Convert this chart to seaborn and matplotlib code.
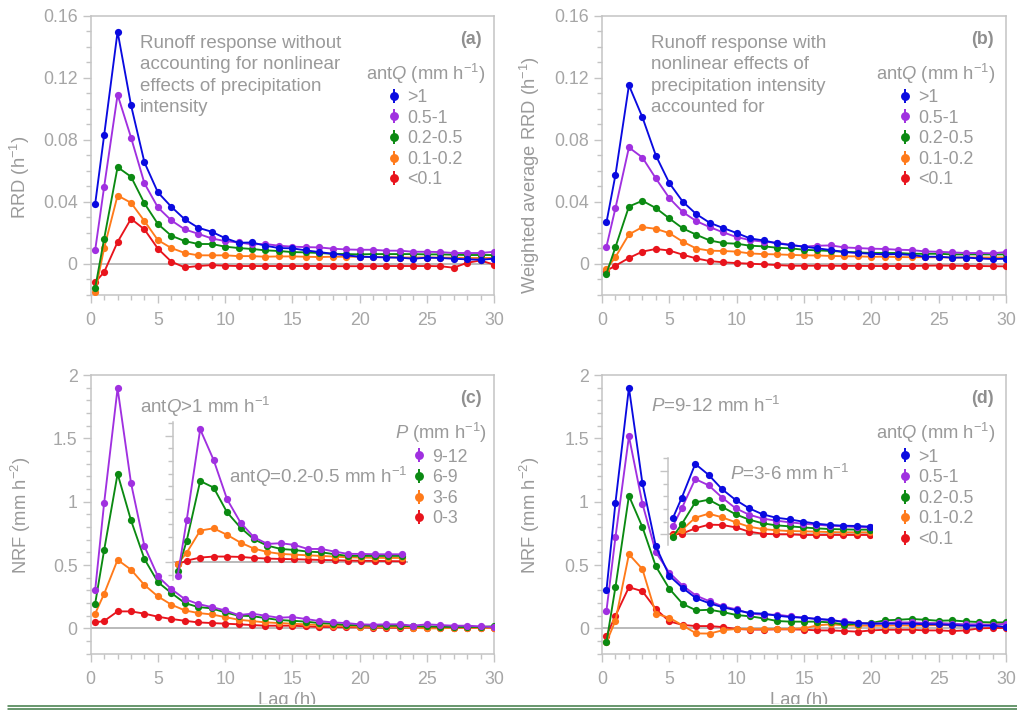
import matplotlib
matplotlib.use("Agg")
import matplotlib.pyplot as plt
from matplotlib.ticker import MultipleLocator, FixedLocator, FuncFormatter
from matplotlib.lines import Line2D
from matplotlib.patches import Rectangle
from matplotlib.legend_handler import HandlerTuple
import pandas as pd
import seaborn as sns

# ---------------------------------------------------------------- data
LAG = [0.33] + list(range(1, 31))
LAG_C_INSET = [0.33] + list(range(1, 18))
LAG_D_INSET = [0.33] + list(range(1, 16))

ANTQ_LABELS = [">1", "0.5-1", "0.2-0.5", "0.1-0.2", "<0.1"]
P_LABELS = ["9-12", "6-9", "3-6", "0-3"]

# (a) RRD without accounting for precipitation-intensity effects
a_gt1 = [0.0384, 0.0829, 0.1497, 0.1022, 0.0653, 0.046, 0.0367, 0.0286, 0.0232, 0.0206, 0.0165,
         0.0135, 0.0137, 0.0116, 0.0101, 0.0099, 0.0086, 0.0075, 0.0064, 0.0054, 0.0045,
         0.0043, 0.004, 0.0039, 0.0032, 0.0039, 0.0037, 0.0032, 0.0028, 0.0026, 0.0032]
a_05_1 = [0.0086, 0.0496, 0.109, 0.0814, 0.0518, 0.0363, 0.0279, 0.0221, 0.0193, 0.0163, 0.0146,
          0.0137, 0.0125, 0.0127, 0.0116, 0.011, 0.0107, 0.0105, 0.0097, 0.0092, 0.009,
          0.009, 0.0084, 0.0084, 0.0077, 0.0077, 0.0075, 0.0069, 0.0069, 0.0069, 0.0077]
a_02_05 = [-0.0159, 0.0161, 0.0623, 0.0561, 0.0389, 0.0256, 0.018, 0.0146, 0.0127, 0.0127, 0.011,
           0.0101, 0.0095, 0.0086, 0.0082, 0.0075, 0.0073, 0.0069, 0.0064, 0.0062, 0.006,
           0.0062, 0.0062, 0.0062, 0.0062, 0.006, 0.006, 0.0058, 0.0056, 0.0056, 0.0056]
a_01_02 = [-0.0185, 0.0101, 0.044, 0.0393, 0.0275, 0.0152, 0.0101, 0.0069, 0.0054, 0.0054, 0.0054,
           0.0049, 0.0049, 0.0045, 0.0047, 0.0047, 0.0045, 0.0043, 0.0045, 0.0045, 0.0045,
           0.0043, 0.0043, 0.004, 0.004, 0.004, 0.0039, 0.0039, 0.0037, 0.0037, 0.0037]
a_lt01 = [-0.012, -0.0054, 0.014, 0.029, 0.0221, 0.0097, 0.0013, -0.0024, -0.0015, -0.0009, -0.0013,
          -0.0015, -0.0015, -0.0015, -0.0015, -0.0015, -0.0015, -0.0015, -0.0016, -0.0016, -0.0016,
          -0.0016, -0.0015, -0.0015, -0.0015, -0.0015, -0.0016, -0.0026, 0.0006, 0.0021, -0.0006]

# (b) weighted average RRD, intensity effects accounted for
b_gt1 = [0.0266, 0.0573, 0.1151, 0.0945, 0.0698, 0.052, 0.04, 0.032, 0.0264, 0.023, 0.0198,
         0.0163, 0.015, 0.0131, 0.012, 0.011, 0.0099, 0.0088, 0.0075, 0.0069, 0.0064,
         0.006, 0.0062, 0.0056, 0.0045, 0.0045, 0.0039, 0.004, 0.0034, 0.003, 0.0032]
b_05_1 = [0.011, 0.0359, 0.075, 0.0685, 0.055, 0.0423, 0.0333, 0.0275, 0.0236, 0.0202, 0.0172,
          0.0152, 0.0142, 0.0135, 0.0122, 0.011, 0.0116, 0.0118, 0.0105, 0.0101, 0.0097,
          0.0095, 0.009, 0.0088, 0.0079, 0.0077, 0.0073, 0.0069, 0.0069, 0.0067, 0.0075]
b_02_05 = [-0.0064, 0.0107, 0.0369, 0.0406, 0.0359, 0.0292, 0.0228, 0.0187, 0.015, 0.0133, 0.0129,
           0.0116, 0.0112, 0.0103, 0.0099, 0.009, 0.0086, 0.0082, 0.0077, 0.0073, 0.0069,
           0.0069, 0.0069, 0.0064, 0.0064, 0.0064, 0.006, 0.006, 0.006, 0.006, 0.006]
b_01_02 = [-0.0035, 0.0043, 0.0189, 0.0236, 0.0225, 0.0197, 0.0142, 0.0098, 0.0084, 0.0082, 0.0078,
           0.0066, 0.0062, 0.006, 0.0057, 0.0054, 0.0053, 0.005, 0.0048, 0.0047, 0.0045,
           0.0045, 0.0043, 0.0042, 0.0042, 0.0041, 0.004, 0.004, 0.004, 0.004, 0.004]
b_lt01 = [-0.0045, -0.0013, 0.0037, 0.0078, 0.0095, 0.0085, 0.0058, 0.0034, 0.0017, 0.0009, 0.0004,
          0.0, -0.0004, -0.0009, -0.0013, -0.0013, -0.0013, -0.0013, -0.0014, -0.0014, -0.0015,
          -0.0015, -0.0015, -0.0015, -0.0013, -0.0012, -0.0013, -0.0014, -0.0015, -0.0016, -0.0017]

# (c) NRF for antQ > 1 mm/h, by precipitation intensity
c_9_12 = [0.30, 0.99, 1.895, 1.146, 0.647, 0.41, 0.31, 0.231, 0.192, 0.168, 0.142,
          0.105, 0.116, 0.1, 0.084, 0.089, 0.074, 0.058, 0.047, 0.042, 0.032,
          0.029, 0.032, 0.032, 0.021, 0.032, 0.026, 0.021, 0.021, 0.016, 0.011]
c_6_9 = [0.194, 0.618, 1.22, 0.852, 0.547, 0.365, 0.279, 0.2, 0.168, 0.158, 0.126,
         0.1, 0.097, 0.081, 0.066, 0.06, 0.053, 0.042, 0.037, 0.026, 0.024,
         0.021, 0.021, 0.021, 0.016, 0.016, 0.013, 0.011, 0.011, 0.011, 0.016]
c_3_6 = [0.116, 0.273, 0.541, 0.463, 0.342, 0.252, 0.187, 0.142, 0.121, 0.11, 0.089,
         0.068, 0.058, 0.047, 0.042, 0.037, 0.032, 0.026, 0.021, 0.016, 0.013,
         0.011, 0.011, 0.011, 0.005, 0.0, 0.0, 0.005, 0.003, 0.003, 0.005]
c_0_3 = [0.047, 0.058, 0.134, 0.134, 0.116, 0.092, 0.074, 0.06, 0.047, 0.042, 0.037,
         0.032, 0.026, 0.021, 0.021, 0.021, 0.016, 0.011, 0.011, 0.008, 0.008,
         0.005, 0.005, 0.005, 0.005, 0.005, 0.005, 0.005, 0.005, 0.005, 0.005]

# (c) inset: antQ = 0.2-0.5 mm/h
ci_9_12 = [-0.105, 0.334, 1.049, 0.807, 0.497, 0.313, 0.197, 0.145, 0.15, 0.137, 0.105,
           0.105, 0.084, 0.066, 0.066, 0.063, 0.063, 0.063]
ci_6_9 = [-0.066, 0.171, 0.641, 0.589, 0.394, 0.273, 0.181, 0.131, 0.105, 0.097, 0.084,
          0.079, 0.063, 0.05, 0.05, 0.05, 0.05, 0.05]
ci_3_6 = [-0.013, 0.076, 0.25, 0.268, 0.216, 0.155, 0.108, 0.081, 0.066, 0.06, 0.055,
          0.05, 0.045, 0.039, 0.037, 0.035, 0.034, 0.034]
ci_0_3 = [-0.016, 0.013, 0.037, 0.045, 0.045, 0.042, 0.034, 0.029, 0.026, 0.024, 0.021,
          0.018, 0.016, 0.013, 0.011, 0.011, 0.009, 0.008]

# (d) NRF for P = 9-12 mm/h, by antecedent flow
d_gt1 = [0.30, 0.993, 1.90, 1.146, 0.647, 0.415, 0.318, 0.237, 0.197, 0.166, 0.142,
         0.121, 0.116, 0.1, 0.089, 0.084, 0.074, 0.068, 0.047, 0.042, 0.037,
         0.037, 0.037, 0.037, 0.032, 0.032, 0.026, 0.021, 0.021, 0.021, 0.011]
d_05_1 = [0.138, 0.72, 1.516, 0.985, 0.6, 0.44, 0.336, 0.258, 0.213, 0.173, 0.15,
          0.116, 0.108, 0.108, 0.095, 0.084, 0.074, 0.063, 0.055, 0.042, 0.037,
          0.042, 0.047, 0.047, 0.042, 0.042, 0.037, 0.032, 0.032, 0.026, 0.037]
d_02_05 = [-0.11, 0.327, 1.046, 0.8, 0.489, 0.313, 0.192, 0.142, 0.147, 0.128, 0.105,
           0.095, 0.079, 0.058, 0.053, 0.053, 0.053, 0.047, 0.029, 0.037, 0.042,
           0.063, 0.068, 0.074, 0.068, 0.06, 0.063, 0.055, 0.05, 0.047, 0.047]
d_01_02 = [-0.11, 0.062, 0.585, 0.468, 0.115, 0.084, 0.022, -0.04, -0.041, -0.014, -0.005,
           -0.005, -0.005, -0.005, -0.005, 0.0, 0.024, 0.032, 0.024, 0.021, 0.021,
           0.021, 0.024, 0.021, 0.024, 0.026, 0.024, 0.021, 0.026, 0.032, 0.034]
d_lt01 = [-0.06, 0.1, 0.325, 0.293, 0.152, 0.055, 0.027, 0.018, 0.018, 0.01, -0.005,
          -0.01, -0.01, -0.008, -0.008, -0.01, -0.016, -0.016, -0.021, -0.026, -0.016,
          -0.011, -0.011, -0.011, -0.016, -0.016, -0.021, -0.016, 0.0, 0.003, 0.003]

# (d) inset: P = 3-6 mm/h
di_gt1 = [0.126, 0.289, 0.555, 0.468, 0.355, 0.271, 0.205, 0.158, 0.131, 0.118, 0.1,
          0.084, 0.074, 0.068, 0.066, 0.06]
di_05_1 = [0.063, 0.205, 0.436, 0.386, 0.289, 0.205, 0.155, 0.124, 0.108, 0.095, 0.084,
           0.076, 0.068, 0.063, 0.058, 0.055]
di_02_05 = [-0.021, 0.081, 0.252, 0.273, 0.216, 0.158, 0.116, 0.087, 0.071, 0.063, 0.055,
            0.047, 0.042, 0.039, 0.037, 0.037]
di_01_02 = [-0.01, 0.034, 0.131, 0.163, 0.134, 0.095, 0.06, 0.042, 0.032, 0.026, 0.024,
            0.021, 0.018, 0.016, 0.016, 0.016]
di_lt01 = [0.0, 0.005, 0.047, 0.076, 0.074, 0.055, 0.021, 0.005, 0.0, 0.0, -0.005,
           -0.005, -0.005, -0.005, -0.005, -0.005]

# ---------------------------------------------------------------- style
BLUE, PURPLE, GREEN, ORANGE, RED = "#0a0ae0", "#a030e0", "#0b8a12", "#ff7a1a", "#e8141c"
ANTQ_COLORS = [BLUE, PURPLE, GREEN, ORANGE, RED]
P_COLORS = [PURPLE, GREEN, ORANGE, RED]
TEXT = "#9a9a9a"
TICKTXT = "#a6a6a6"
SPINE = "#c4c4c4"
ZERO = "#b4b4b4"

sns.set_theme(style="white")
plt.rcParams["font.family"] = ["Liberation Sans", "DejaVu Sans"]
plt.rcParams["mathtext.fontset"] = "custom"
plt.rcParams["mathtext.rm"] = "Liberation Sans"
plt.rcParams["mathtext.it"] = "Liberation Sans:italic"
plt.rcParams["mathtext.bf"] = "Liberation Sans:bold"

TICK_FS = 12.8
LABEL_FS = 13.2
NOTE_FS = 13.5

W, H = 1017, 711
fig = plt.figure(figsize=(W / 100, H / 100), dpi=100)


def px_axes(left, top, right, bottom):
    return fig.add_axes([left / W, 1 - bottom / H, (right - left) / W, (bottom - top) / H])


def draw_series(ax, lags, labels, series, colors):
    frames = [pd.DataFrame({"lag": lags, "value": v, "group": lab})
              for lab, v in zip(labels, series)]
    df = pd.concat(frames, ignore_index=True)
    sns.lineplot(data=df, x="lag", y="value", hue="group",
                 hue_order=labels[::-1], palette=dict(zip(labels, colors)),
                 marker="o", markersize=5.2, markeredgewidth=0, linewidth=1.35,
                 estimator=None, sort=True, legend=False, ax=ax, zorder=3)
    ax.set_xlabel("")
    ax.set_ylabel("")


def style_main(ax, ylim, majors, minor_step):
    ax.set_xlim(0, 30)
    ax.set_ylim(*ylim)
    ax.xaxis.set_major_locator(MultipleLocator(5))
    ax.xaxis.set_minor_locator(MultipleLocator(1))
    ax.yaxis.set_major_locator(FixedLocator(majors))
    ax.yaxis.set_minor_locator(MultipleLocator(minor_step))
    ax.yaxis.set_major_formatter(FuncFormatter(lambda v, p: f"{v:g}"))
    ax.tick_params(which="both", left=True, bottom=True, top=False, right=False,
                   direction="out", color=SPINE, width=1.0)
    ax.tick_params(which="major", length=5.5, labelsize=TICK_FS, labelcolor=TICKTXT)
    ax.tick_params(axis="x", which="major", pad=7)
    ax.tick_params(axis="y", which="major", pad=4)
    ax.tick_params(which="minor", length=3.4)
    for s in ax.spines.values():
        s.set_color(SPINE)
        s.set_linewidth(1.1)
    ax.axhline(0, color=ZERO, lw=1.3, zorder=1)


def style_inset(ax, xlim, ylim, majors, minors):
    ax.patch.set_visible(False)
    ax.set_xlim(*xlim)
    ax.set_ylim(*ylim)
    for side in ("top", "right", "bottom"):
        ax.spines[side].set_visible(False)
    ax.spines["left"].set_color(SPINE)
    ax.spines["left"].set_linewidth(1.1)
    ax.set_xticks([])
    ax.yaxis.set_major_locator(FixedLocator(majors))
    ax.yaxis.set_minor_locator(FixedLocator(minors))
    ax.tick_params(axis="y", which="both", left=True, labelleft=False,
                   direction="out", color=SPINE, width=1.0)
    ax.tick_params(axis="y", which="major", length=5.5)
    ax.tick_params(axis="y", which="minor", length=3.4)
    ax.axhline(0, color=ZERO, lw=1.3, zorder=1)


def add_legend(ax, labels, colors, title, anchor):
    # a filled dot with a short vertical bar through it for each class
    handles = [(Line2D([], [], ls="none", marker="|", ms=9.5, mew=1.4, color=c),
                Line2D([], [], ls="none", marker="o", ms=6.4, mew=0, color=c))
               for c in colors]
    leg = ax.legend(handles, labels,
                    handler_map={tuple: HandlerTuple(ndivide=1, pad=0)},
                    title=title, loc="upper right", bbox_to_anchor=anchor,
                    frameon=False, fontsize=TICK_FS, title_fontsize=LABEL_FS,
                    handlelength=0.6, handletextpad=0.45, labelspacing=0.2,
                    borderpad=0, borderaxespad=0)
    for t in leg.get_texts():
        t.set_color(TEXT)
    leg.get_title().set_color(TEXT)
    leg.set_zorder(5)


def note(ax, x, y, s, **kw):
    ax.text(x, y, s, transform=ax.transAxes, color=TEXT, fontsize=NOTE_FS, **kw)


def panel_tag(ax, y, s):
    ax.text(0.9695, y, s, transform=ax.transAxes, ha="right", va="center",
            color="#8f8f8f", fontsize=TICK_FS, fontweight="bold")


ANTQ_TITLE = r"ant$Q$ (mm h$^{-1}$)"

# ---------------------------------------------------------------- (a)
ax_a = px_axes(90.7, 15.7, 494, 294.7)
draw_series(ax_a, LAG, ANTQ_LABELS, [a_gt1, a_05_1, a_02_05, a_01_02, a_lt01], ANTQ_COLORS)
style_main(ax_a, (-0.02, 0.16), [0, 0.04, 0.08, 0.12, 0.16], 0.01)
ax_a.set_ylabel(r"RRD (h$^{-1}$)", color=TEXT, fontsize=LABEL_FS)
ax_a.yaxis.set_label_coords(-0.1455, 0.42)
note(ax_a, 0.122, 0.932, "Runoff response without\naccounting for nonlinear\n"
     "effects of precipitation\nintensity", va="top", linespacing=1.34)
panel_tag(ax_a, 0.915, "(a)")
add_legend(ax_a, ANTQ_LABELS, ANTQ_COLORS, ANTQ_TITLE, (0.978, 0.836))

# ---------------------------------------------------------------- (b)
ax_b = px_axes(602, 15.7, 1006, 294.7)
draw_series(ax_b, LAG, ANTQ_LABELS, [b_gt1, b_05_1, b_02_05, b_01_02, b_lt01], ANTQ_COLORS)
style_main(ax_b, (-0.02, 0.16), [0, 0.04, 0.08, 0.12, 0.16], 0.01)
ax_b.set_ylabel(r"Weighted average RRD (h$^{-1}$)", color=TEXT, fontsize=LABEL_FS)
ax_b.yaxis.set_label_coords(-0.1485, 0.428)
note(ax_b, 0.121, 0.932, "Runoff response with\nnonlinear effects of\n"
     "precipitation intensity\naccounted for", va="top", linespacing=1.34)
panel_tag(ax_b, 0.915, "(b)")
add_legend(ax_b, ANTQ_LABELS, ANTQ_COLORS, ANTQ_TITLE, (0.975, 0.836))

# ---------------------------------------------------------------- (c)
ax_c = px_axes(90.7, 375, 494, 653.7)
draw_series(ax_c, LAG, P_LABELS, [c_9_12, c_6_9, c_3_6, c_0_3], P_COLORS)
style_main(ax_c, (-0.2, 2.0), [0, 0.5, 1, 1.5, 2], 0.1)
ax_c.set_ylabel(r"NRF (mm h$^{-2}$)", color=TEXT, fontsize=LABEL_FS)
ax_c.yaxis.set_label_coords(-0.143, 0.495)
ax_c.set_xlabel("Lag (h)", color=TEXT, fontsize=LABEL_FS)
ax_c.xaxis.set_label_coords(0.486, -0.137)
note(ax_c, 0.122, 0.886, r"ant$Q$>1 mm h$^{-1}$", va="center")
note(ax_c, 0.344, 0.635, r"ant$Q$=0.2-0.5 mm h$^{-1}$", va="center")
panel_tag(ax_c, 0.914, "(c)")
add_legend(ax_c, P_LABELS, P_COLORS, r"$P$ (mm h$^{-1}$)", (0.982, 0.835))

ax_ci = px_axes(173.3, 421.7, 408, 580)
draw_series(ax_ci, LAG_C_INSET, P_LABELS, [ci_9_12, ci_6_9, ci_3_6, ci_0_3], P_COLORS)
style_inset(ax_ci, (0, 17.46), (-0.14, 1.109), [0, 0.5, 1.0],
            [-0.1, 0.1, 0.2, 0.3, 0.4, 0.6, 0.7, 0.8, 0.9, 1.1])

# ---------------------------------------------------------------- (d)
ax_d = px_axes(602, 375, 1006, 653.7)
draw_series(ax_d, LAG, ANTQ_LABELS, [d_gt1, d_05_1, d_02_05, d_01_02, d_lt01], ANTQ_COLORS)
style_main(ax_d, (-0.2, 2.0), [0, 0.5, 1, 1.5, 2], 0.1)
ax_d.set_ylabel(r"NRF (mm h$^{-2}$)", color=TEXT, fontsize=LABEL_FS)
ax_d.yaxis.set_label_coords(-0.1485, 0.495)
ax_d.set_xlabel("Lag (h)", color=TEXT, fontsize=LABEL_FS)
ax_d.xaxis.set_label_coords(0.487, -0.137)
note(ax_d, 0.121, 0.89, r"$P$=9-12 mm h$^{-1}$", va="center")
note(ax_d, 0.316, 0.644, r"$P$=3-6 mm h$^{-1}$", va="center")
panel_tag(ax_d, 0.916, "(d)")
add_legend(ax_d, ANTQ_LABELS, ANTQ_COLORS, ANTQ_TITLE, (0.975, 0.835))

ax_di = px_axes(668.3, 457.7, 871.7, 545)
draw_series(ax_di, LAG_D_INSET, ANTQ_LABELS,
            [di_gt1, di_05_1, di_02_05, di_01_02, di_lt01], ANTQ_COLORS)
style_inset(ax_di, (0, 15.1), (-0.084, 0.604), [0, 0.5], [0.1, 0.2, 0.3, 0.4, 0.6])

# ---------------------------------------------------------------- page rule
fig.add_artist(Rectangle((0, 0), 1, 7 / H, transform=fig.transFigure,
                         facecolor="white", edgecolor="none", zorder=20))
for ypx in (705.5, 708.6):
    fig.add_artist(Line2D([8 / W, 1], [1 - ypx / H, 1 - ypx / H], transform=fig.transFigure,
                          color="#3f7a45", lw=1.1, zorder=21))

fig.savefig("out.png", dpi=100)
